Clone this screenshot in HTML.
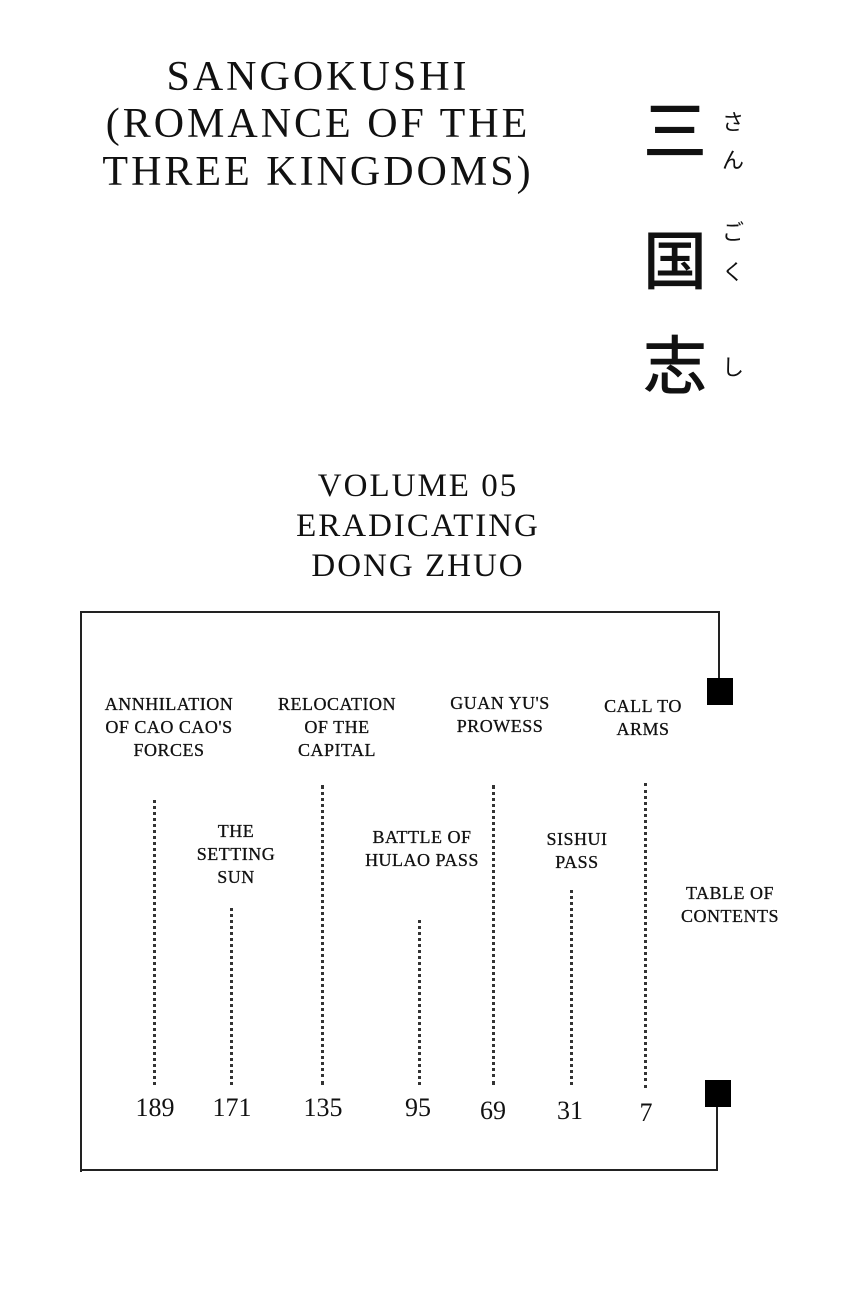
<!DOCTYPE html>
<html><head><meta charset="utf-8"><style>
body{margin:0;width:850px;height:1315px;background:#fff;position:relative;overflow:hidden;font-family:"Liberation Serif",serif;color:#111}
.t{position:absolute;text-align:center;white-space:nowrap;line-height:1}
.big{font-size:42px;letter-spacing:3px}
.vol{font-size:33px;letter-spacing:2px}
.lab{font-size:18px;line-height:23px;letter-spacing:0.5px;transform:translateX(-50%);-webkit-text-stroke:0.3px #111}
.num{position:absolute;font-size:26px;transform:translateX(-50%)}
.dot{position:absolute;width:0;border-left:3px dotted #333}
.k{position:absolute;font-family:"Noto Sans CJK JP",sans-serif;font-size:64px;font-weight:500;line-height:1}
.f{position:absolute;font-family:"Noto Sans CJK JP",sans-serif;font-size:22px;line-height:1}
.ln{position:absolute;background:#222}
.sq{position:absolute;background:#000;width:26px;height:27px}
</style></head><body>
<div class="t big" style="left:0;width:636px;top:56px">SANGOKUSHI</div>
<div class="t big" style="left:0;width:636px;top:103px">(ROMANCE OF THE</div>
<div class="t big" style="left:0;width:636px;top:151px">THREE KINGDOMS)</div>

<div class="k" style="left:643px;top:95px">三</div>
<div class="k" style="left:643px;top:225px">国</div>
<div class="k" style="left:643px;top:330px">志</div>
<div class="f" style="left:722px;top:110px">さ</div>
<div class="f" style="left:722px;top:148px">ん</div>
<div class="f" style="left:722px;top:220px">ご</div>
<div class="f" style="left:722px;top:260px">く</div>
<div class="f" style="left:722px;top:355px">し</div>

<div class="t vol" style="left:0;width:836px;top:470px">VOLUME 05</div>
<div class="t vol" style="left:0;width:836px;top:510px">ERADICATING</div>
<div class="t vol" style="left:0;width:836px;top:550px">DONG ZHUO</div>

<div class="ln" style="left:80px;top:611px;width:640px;height:2px"></div>
<div class="ln" style="left:80px;top:611px;width:2px;height:561px"></div>
<div class="ln" style="left:80px;top:1169px;width:638px;height:2px"></div>
<div class="ln" style="left:718px;top:611px;width:2px;height:70px"></div>
<div class="ln" style="left:716px;top:1100px;width:2px;height:71px"></div>
<div class="sq" style="left:707px;top:678px"></div>
<div class="sq" style="left:705px;top:1080px"></div>

<div class="t lab" style="left:169px;top:693px">ANNHILATION<br>OF CAO CAO'S<br>FORCES</div>
<div class="t lab" style="left:337px;top:693px">RELOCATION<br>OF THE<br>CAPITAL</div>
<div class="t lab" style="left:500px;top:692px">GUAN YU'S<br>PROWESS</div>
<div class="t lab" style="left:643px;top:695px">CALL TO<br>ARMS</div>
<div class="t lab" style="left:236px;top:820px">THE<br>SETTING<br>SUN</div>
<div class="t lab" style="left:422px;top:826px">BATTLE OF<br>HULAO PASS</div>
<div class="t lab" style="left:577px;top:828px">SISHUI<br>PASS</div>
<div class="t lab" style="left:730px;top:882px">TABLE OF<br>CONTENTS</div>

<div class="dot" style="left:153px;top:800px;height:285px"></div>
<div class="dot" style="left:230px;top:908px;height:177px"></div>
<div class="dot" style="left:321px;top:785px;height:300px"></div>
<div class="dot" style="left:418px;top:920px;height:165px"></div>
<div class="dot" style="left:492px;top:785px;height:300px"></div>
<div class="dot" style="left:570px;top:890px;height:195px"></div>
<div class="dot" style="left:644px;top:783px;height:305px"></div>

<div class="num" style="left:155px;top:1093px">189</div>
<div class="num" style="left:232px;top:1093px">171</div>
<div class="num" style="left:323px;top:1093px">135</div>
<div class="num" style="left:418px;top:1093px">95</div>
<div class="num" style="left:493px;top:1096px">69</div>
<div class="num" style="left:570px;top:1096px">31</div>
<div class="num" style="left:646px;top:1098px">7</div>
</body></html>
